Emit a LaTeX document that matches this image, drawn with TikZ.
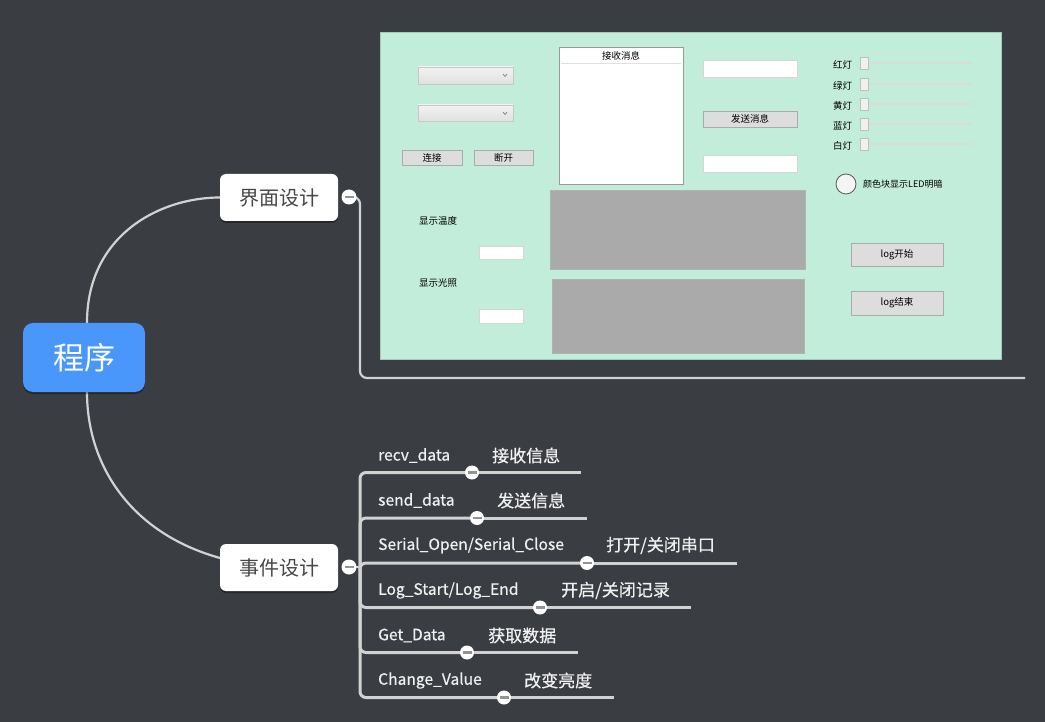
\documentclass[tikz,border=0pt]{standalone}
\usepackage{fontspec}
\setmainfont{Noto Sans CJK SC}
\newfontfamily\evfont[FakeBold=0.6]{Noto Sans CJK SC}
\usetikzlibrary{backgrounds,shadows}
\definecolor{bgc}{HTML}{3A3D42}
\definecolor{mint}{HTML}{C2EDDA}
\definecolor{rootblue}{HTML}{4A97FC}
\definecolor{linec}{HTML}{D2D2D2}
\definecolor{topictext}{HTML}{474747}
\definecolor{btnfill}{HTML}{DDDDDD}
\definecolor{btndraw}{HTML}{ABABAB}
\definecolor{plotgray}{HTML}{AAAAAA}
\tikzset{
  rootbox/.style={fill=rootblue, rounded corners=10pt, minimum width=122pt, minimum height=69pt,
    text=white, font=\fontsize{31}{31}\selectfont, inner sep=0pt,
    drop shadow={shadow xshift=0pt, shadow yshift=-2pt, opacity=0.35, fill=black}},
  topicbox/.style={fill=white, rounded corners=6pt, minimum width=118pt, minimum height=47pt,
    text=topictext, font=\fontsize{20}{20}\selectfont, inner sep=0pt,
    drop shadow={shadow xshift=0pt, shadow yshift=-2pt, opacity=0.35, fill=black}},
  foldmark/.style={circle, fill=white, draw=none, minimum size=15pt, inner sep=0pt,
    path picture={\draw[line width=2.6pt, gray!85]
      ([xshift=-4.5pt]path picture bounding box.center) -- ([xshift=4.5pt]path picture bounding box.center);}},
  smallfold/.style={foldmark, minimum size=14pt},
  evlabel/.style={anchor=west, inner sep=0pt, text=white!94!black, font=\evfont\fontsize{17}{17}\selectfont},
  evcode/.style={evlabel, font=\evfont\fontsize{15.6}{15.6}\selectfont},
  mainline/.style={draw=linec, line width=2.2pt},
  evline/.style={draw=linec, line width=3pt},
  scrtext/.style={inner sep=0pt, text=black, font=\fontsize{9.5}{9.5}\selectfont},
  combobox/.style={top color=white!95!black, bottom color=white!88!black, draw=white!78!black, line width=0.8pt},
  btnbox/.style={fill=btnfill, draw=btndraw, line width=0.8pt},
  fieldbox/.style={fill=white, draw=white!84!black, line width=0.8pt},
  plotbox/.style={fill=plotgray, draw=plotgray!85!mint, line width=0.8pt},
  handle/.style={fill=white!94!black, draw=white!75!black, line width=0.7pt},
  track/.style={draw=white!86!black, line width=2pt},
}
\begin{document}
\begin{tikzpicture}[x=1pt,y=-1pt]
\begin{scope}[on background layer]
\fill[bgc] (0,0) rectangle (1045,722);
\end{scope}
\useasboundingbox (0,0) rectangle (1045,722);

% ---------- screenshot of the GUI ----------
\node[fill=mint, draw=mint!85!black, line width=0.5pt, minimum width=621pt, minimum height=327pt,
  anchor=north west, inner sep=0pt] (shot) at (380,32) {};
% combo boxes
\draw[combobox] (418,67) rectangle (513,84);
\draw[gray, line width=0.7pt] (503,74) -- (505,76.5) -- (507,74);
\draw[combobox] (418,105) rectangle (513,121);
\draw[gray, line width=0.7pt] (503,112) -- (505,114.5) -- (507,112);
% connect buttons
\draw[btnbox] (402,150) rectangle (462,165);
\node[scrtext] (bconnect) at (432,157.5) {连接};
\draw[btnbox] (474,150) rectangle (533,165);
\node[scrtext] (bdisc) at (503.5,157.5) {断开};
% receive list
\draw[fill=white, draw=white!60!black, line width=0.8pt] (559,47) rectangle (683,184);
\draw[white!88!black, line width=0.8pt] (561,63.5) -- (681,63.5);
\node[scrtext] (listhead) at (621,56) {接收消息};
% send area
\draw[fieldbox] (703,60) rectangle (797,77);
\draw[btnbox] (703,111) rectangle (797,127);
\node[scrtext] (bsend) at (750,119) {发送消息};
\draw[fieldbox] (703,155) rectangle (797,172);
% sliders
\foreach \yy/\lab/\nm in {64/红灯/s1, 85/绿灯/s2, 105/黄灯/s3, 125/蓝灯/s4, 145/白灯/s5}{
  \draw[track] (867,\yy-1) -- (973,\yy-1);
  \draw[handle] (860,\yy-7) rectangle (868,\yy+5);
  \node[scrtext, anchor=west] (\nm) at (833,\yy+1) {\lab};
}
% LED colour block
\draw[fill=white!96!black, draw=white!35!black, line width=0.8pt] (846,184) circle (10pt);
\node[scrtext, anchor=west, font=\fontsize{9}{9}\selectfont] (ledtext) at (863,184) {颜色块显示LED明暗};
% plots
\draw[plotbox] (550,190) rectangle (805,269);
\draw[plotbox] (552,279) rectangle (804,353);
% value displays
\node[scrtext, anchor=west] (ttemp) at (419,221) {显示温度};
\draw[fieldbox] (479,246) rectangle (523,259);
\node[scrtext, anchor=west] (tlight) at (419,283) {显示光照};
\draw[fieldbox] (479,309) rectangle (523,323);
% log buttons
\draw[btnbox] (851,243) rectangle (943,266);
\node[scrtext] (blogs) at (897,254.5) {log开始};
\draw[btnbox] (851,291) rectangle (943,315);
\node[scrtext] (bloge) at (897,303) {log结束};

% ---------- mind map ----------
\node[rootbox] (root) at (84,357.5) {程序};
\node[topicbox] (ui) at (279,197.5) {界面设计};
\node[topicbox] (ev) at (279,567.5) {事件设计};
\node[foldmark] (uif) at (349,197) {};
\node[foldmark] (evf) at (349,567) {};
\coordinate (uiend) at (1025,378);
\coordinate (evhub) at (360,567);

% event children
\node[evcode] (l1) at (378,455.5) {recv\_data};
\node[evlabel] (r1) at (492,455.5) {接收信息};
\node[smallfold] (f1) at (472,472.5) {};
\coordinate (e1) at (581,472.5);

\node[evcode] (l2) at (378,500.5) {send\_data};
\node[evlabel] (r2) at (497,500.5) {发送信息};
\node[smallfold] (f2) at (477,518) {};
\coordinate (e2) at (587,518);

\node[evcode] (l3) at (378,545.5) {Serial\_Open/Serial\_Close};
\node[evlabel] (r3) at (606,545.5) {打开/关闭串口};
\node[smallfold] (f3) at (587,563) {};
\coordinate (e3) at (737,563);

\node[evcode] (l4) at (378,590.5) {Log\_Start/Log\_End};
\node[evlabel] (r4) at (561,590.5) {开启/关闭记录};
\node[smallfold] (f4) at (540,607.5) {};
\coordinate (e4) at (691,607.5);

\node[evcode] (l5) at (378,635.5) {Get\_Data};
\node[evlabel] (r5) at (488,635.5) {获取数据};
\node[smallfold] (f5) at (467,652.5) {};
\coordinate (e5) at (578,652.5);

\node[evcode] (l6) at (378,680.5) {Change\_Value};
\node[evlabel] (r6) at (524,680.5) {改变亮度};
\node[smallfold] (f6) at (504,697.5) {};
\coordinate (e6) at (614,697.5);

\begin{scope}[on background layer]
  \draw[mainline] ([xshift=3pt]root.north) .. controls (87,235) and (160,197.5) .. (ui.west);
  \draw[mainline] ([xshift=3pt]root.south) .. controls (87,480) and (150,560) .. (ev.center);
  \draw[mainline, rounded corners=7pt] (uif.center) -- (360,197) -- (360,378) -- (uiend);
  \draw[mainline] (evf.center) -- (evhub);
  \foreach \i in {1,...,6}{
    \draw[evline, rounded corners=6pt] (evhub) |- (f\i.center);
    \draw[evline] (f\i.center) -- (e\i);
  }
\end{scope}
\end{tikzpicture}
\end{document}
